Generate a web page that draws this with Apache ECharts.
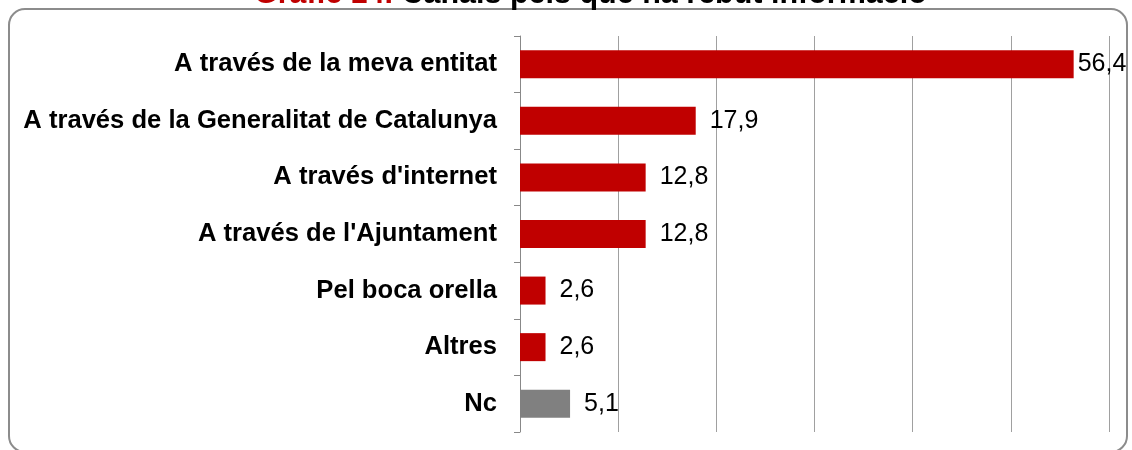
<!DOCTYPE html>
<html><head><meta charset="utf-8">
<script src="https://cdn.jsdelivr.net/npm/echarts@6/dist/echarts.min.js"></script>
<style>html,body{margin:0;padding:0;background:#fff}#c{width:1132px;height:450px}</style>
</head><body><div id="c"></div>
<script>
const categories = ["A través de la meva entitat","A través de la Generalitat de Catalunya","A través d'internet","A través de l'Ajuntament","Pel boca orella","Altres","Nc"];
const values = [56.4, 17.9, 12.8, 12.8, 2.6, 2.6, 5.1];
const barColors = ["#C00000","#C00000","#C00000","#C00000","#C00000","#C00000","#808080"];
const titleRed = "Gràfic 14.";
const titleBlack = " Canals pels que ha rebut informació";

const chart = echarts.init(document.getElementById('c'), null, {renderer:'canvas'});
chart.setOption({
  animation:false,
  grid:{left:520,right:23,top:36,bottom:18,containLabel:false},
  graphic:[
    {type:'rect',shape:{x:9,y:9,width:1118,height:443,r:16},style:{fill:'none',stroke:'#8c8c8c',lineWidth:2},z:-1},
    {type:'text',left:254,top:-21,style:{rich:{r:{fill:'#C00000',fontSize:30.5,fontWeight:'bold',fontFamily:'Liberation Sans'},b:{fill:'#000',fontSize:30.5,fontWeight:'bold',fontFamily:'Liberation Sans'}},text:'{r|'+titleRed+'}{b|'+titleBlack+'}'}}
  ],
  xAxis:{type:'value',min:0,max:60,interval:10,axisLabel:{show:false},axisLine:{show:false},axisTick:{show:false},
    splitLine:{show:true,lineStyle:{color:'#a0a0a0',width:1}}},
  yAxis:{type:'category',inverse:true,data:categories,
    axisLine:{show:true,lineStyle:{color:'#888',width:1}},
    axisTick:{show:true,length:6,lineStyle:{color:'#888'}},
    axisLabel:{color:'#000',fontSize:25.6,fontWeight:'bold',fontFamily:'Liberation Sans',margin:23}},
  series:[{type:'bar',data:values.map((v,i)=>({value:v,itemStyle:{color:barColors[i]},label:i===0?{distance:4}:undefined})),barWidth:28,
    label:{show:true,position:'right',distance:14,color:'#000',fontSize:25,fontFamily:'Liberation Sans',
      formatter:p=>String(p.value).replace('.',',')}}]
});
</script></body></html>
